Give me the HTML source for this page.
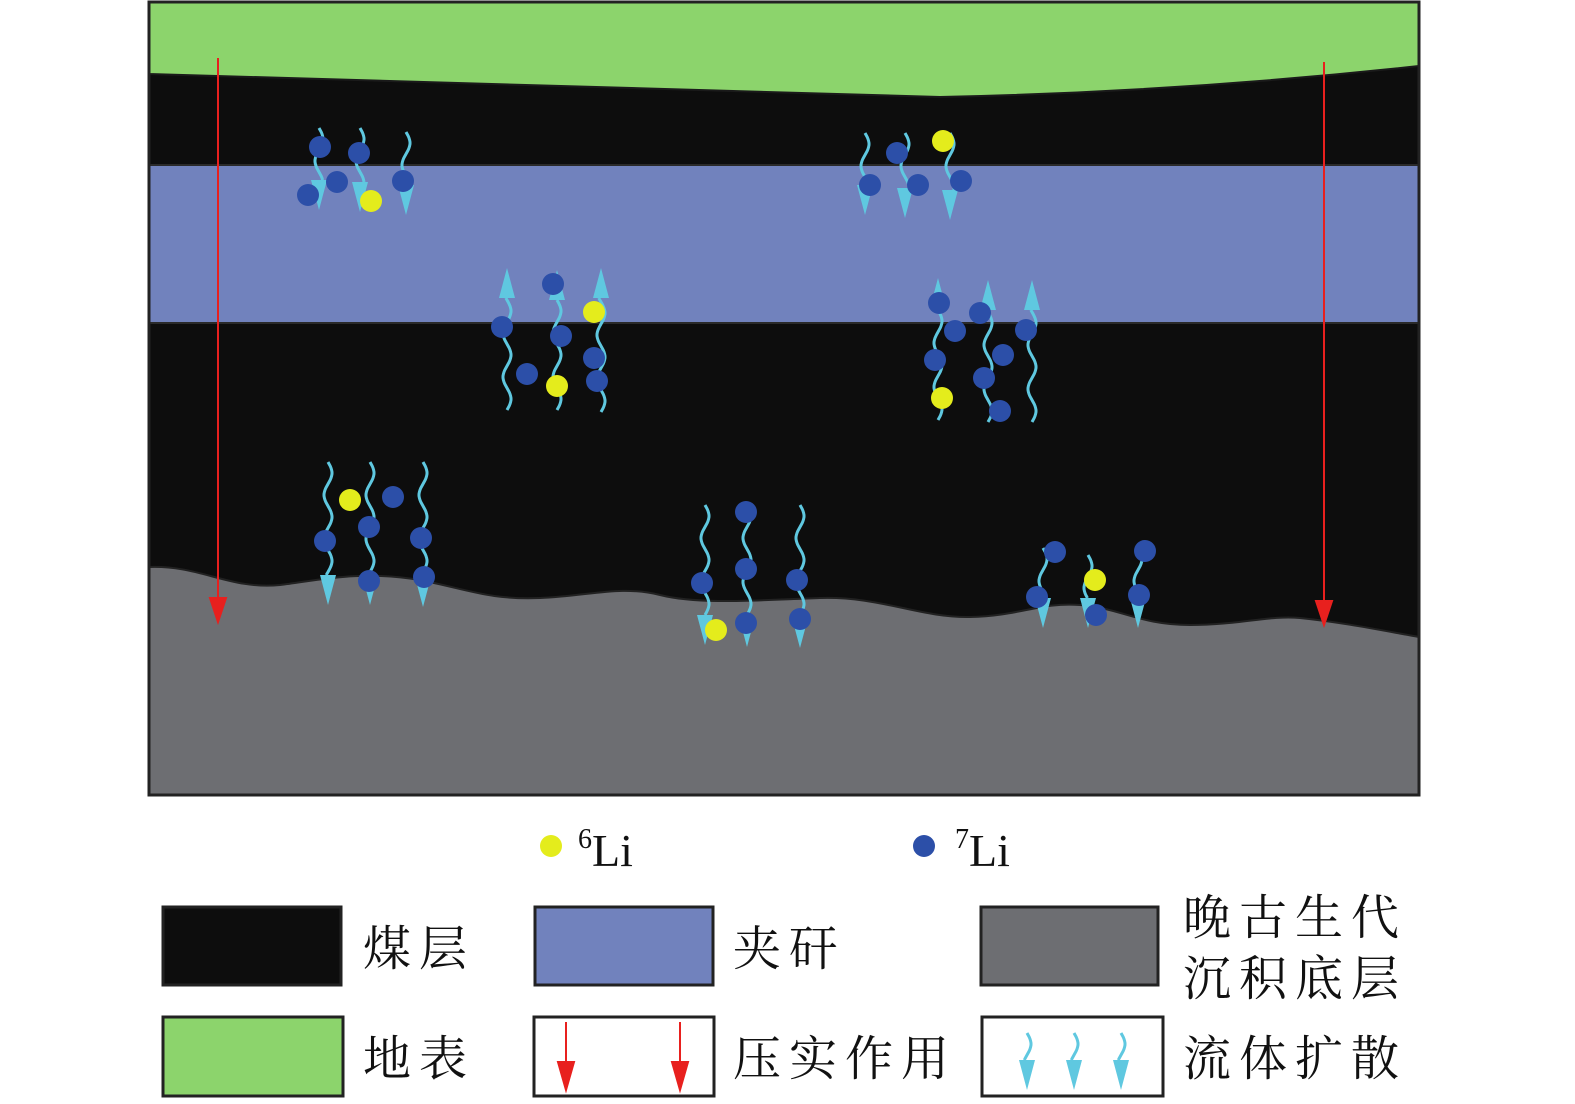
<!DOCTYPE html>
<html><head><meta charset="utf-8"><style>
html,body{margin:0;padding:0;background:#fff;overflow:hidden;width:1575px;height:1104px;}
svg{display:block;}
.cn{font-family:"Liberation Serif","Noto Serif CJK SC",serif;font-size:48px;fill:#111;letter-spacing:8px;}
.li{font-family:"Liberation Serif",serif;font-size:46px;fill:#111;}
</style></head><body>
<svg id="s" width="1575" height="1104" viewBox="0 0 1575 1104" xmlns="http://www.w3.org/2000/svg">
<rect x="149" y="2" width="1270" height="793" fill="#0d0d0d"/>
<path d="M149,2 H1419 V66 Q1180,92 940,97 L149,74 Z" fill="#8cd46c" stroke="#1a1a1a" stroke-width="2"/>
<rect x="149" y="165" width="1270" height="158" fill="#7182bd" stroke="#2a2a2a" stroke-width="2"/>
<path d="M149,567 C200,565 230,590 280,585 C320,580 360,570 420,580 C470,590 490,600 540,598 C590,596 620,585 660,595 C700,605 760,600 820,598 C880,596 920,618 970,617 C1020,616 1040,602 1080,605 C1120,608 1140,625 1190,625 C1240,625 1270,615 1300,618 C1340,622 1380,630 1419,637 V795 H149 Z" fill="#6d6e72" stroke="#222" stroke-width="2"/>
<rect x="149" y="2" width="1270" height="793" fill="none" stroke="#222" stroke-width="3"/>
<g id="waves"></g>
<g id="dots"></g>
<g stroke="#e8201e" stroke-width="2" fill="#e8201e">
<line x1="218" y1="58" x2="218" y2="600"/><path d="M210,598 L226,598 L218,622 Z"/>
<line x1="1324" y1="62" x2="1324" y2="603"/><path d="M1316,601 L1332,601 L1324,625 Z"/>
</g>
<circle cx="551" cy="846" r="11" fill="#e4ec1c"/>
<text class="li" x="578" y="866"><tspan font-size="28" dy="-18">6</tspan><tspan dy="18">Li</tspan></text>
<circle cx="924" cy="846" r="11" fill="#2c4fa8"/>
<text class="li" x="955" y="866"><tspan font-size="28" dy="-18">7</tspan><tspan dy="18">Li</tspan></text>
<g stroke="#222" stroke-width="3">
<rect x="163" y="907" width="178" height="78" fill="#0d0d0d"/>
<rect x="535" y="907" width="178" height="78" fill="#7182bd"/>
<rect x="981" y="907" width="177" height="78" fill="#6d6e72"/>
<rect x="163" y="1017" width="180" height="79" fill="#8cd46c"/>
<rect x="534" y="1017" width="180" height="79" fill="#fff"/>
<rect x="982" y="1017" width="181" height="79" fill="#fff"/>
</g>
<g id="waves2"></g>
<g stroke="#e8201e" stroke-width="2" fill="#e8201e">
<line x1="566" y1="1022" x2="566" y2="1066"/><path d="M558,1062 L574,1062 L566,1090 Z"/>
<line x1="680" y1="1022" x2="680" y2="1066"/><path d="M672,1062 L688,1062 L680,1090 Z"/>
</g>
<text class="cn" x="363" y="965">煤层</text>
<text class="cn" x="733" y="965">夹矸</text>
<text class="cn" x="1183" y="934">晚古生代</text>
<text class="cn" x="1183" y="995">沉积底层</text>
<text class="cn" x="363" y="1075">地表</text>
<text class="cn" x="733" y="1075">压实作用</text>
<text class="cn" x="1183" y="1075">流体扩散</text>
</svg>
<script>
var NS="http://www.w3.org/2000/svg";
var W=document.getElementById("waves"),W2=document.getElementById("waves2"),D=document.getElementById("dots");
function wave(x,y1,y2,up,G){
 G=G||W;
 var tip=up?y1:y2, ah=30, dir=up?-1:1, tail=up?y2:y1;
 var end=tip-dir*ah; var d="M"+x+","+tail; var n=Math.abs(end-tail), steps=Math.ceil(n/2);
 for(var i=1;i<=steps;i++){var yy=tail+dir*Math.min(n,i*2);var xx=x+4*Math.sin((Math.abs(yy-tail))/7);d+=" L"+xx.toFixed(1)+","+yy;}
 var p=document.createElementNS(NS,"path");p.setAttribute("d",d);p.setAttribute("fill","none");p.setAttribute("stroke","#5fc8e0");p.setAttribute("stroke-width","3");G.appendChild(p);
 var h=document.createElementNS(NS,"path");h.setAttribute("d","M"+(x-8)+","+end+" L"+(x+8)+","+end+" L"+x+","+tip+" Z");h.setAttribute("fill","#5fc8e0");G.appendChild(h);
}
[[319,128,210],[360,128,212],[406,132,215],[865,133,215],[905,133,218],[950,133,220],
[328,462,605],[370,462,605],[423,462,607],[705,505,645],[747,505,647],[800,505,648],
[1043,548,628],[1088,555,628],[1138,548,628]].forEach(function(a){wave(a[0],a[1],a[2],false)});
[[1027,1033,1090],[1074,1033,1090],[1121,1033,1090]].forEach(function(a){wave(a[0],a[1],a[2],false,W2)});
[[507,268,410],[557,270,410],[601,268,412],[938,278,420],[988,280,422],[1032,280,422]].forEach(function(a){wave(a[0],a[1],a[2],true)});
function dot(x,y,c){var e=document.createElementNS(NS,"circle");e.setAttribute("cx",x);e.setAttribute("cy",y);e.setAttribute("r",11);e.setAttribute("fill",c);D.appendChild(e);}
var B="#2c4fa8",Y="#e4ec1c";
[[320,147],[359,153],[337,182],[403,181],[308,195],[897,153],[870,185],[918,185],[961,181],
[553,284],[502,327],[561,336],[594,358],[527,374],[597,381],
[939,303],[980,313],[955,331],[1026,330],[1003,355],[935,360],[984,378],[1000,411],
[393,497],[369,527],[421,538],[325,541],[369,581],[424,577],
[746,512],[746,569],[702,583],[797,580],[800,619],[746,623],
[1055,552],[1145,551],[1037,597],[1139,595],[1096,615]].forEach(function(a){dot(a[0],a[1],B)});
[[371,201],[943,141],[594,312],[557,386],[942,398],[350,500],[716,630],[1095,580]].forEach(function(a){dot(a[0],a[1],Y)});
</script>
</body></html>
